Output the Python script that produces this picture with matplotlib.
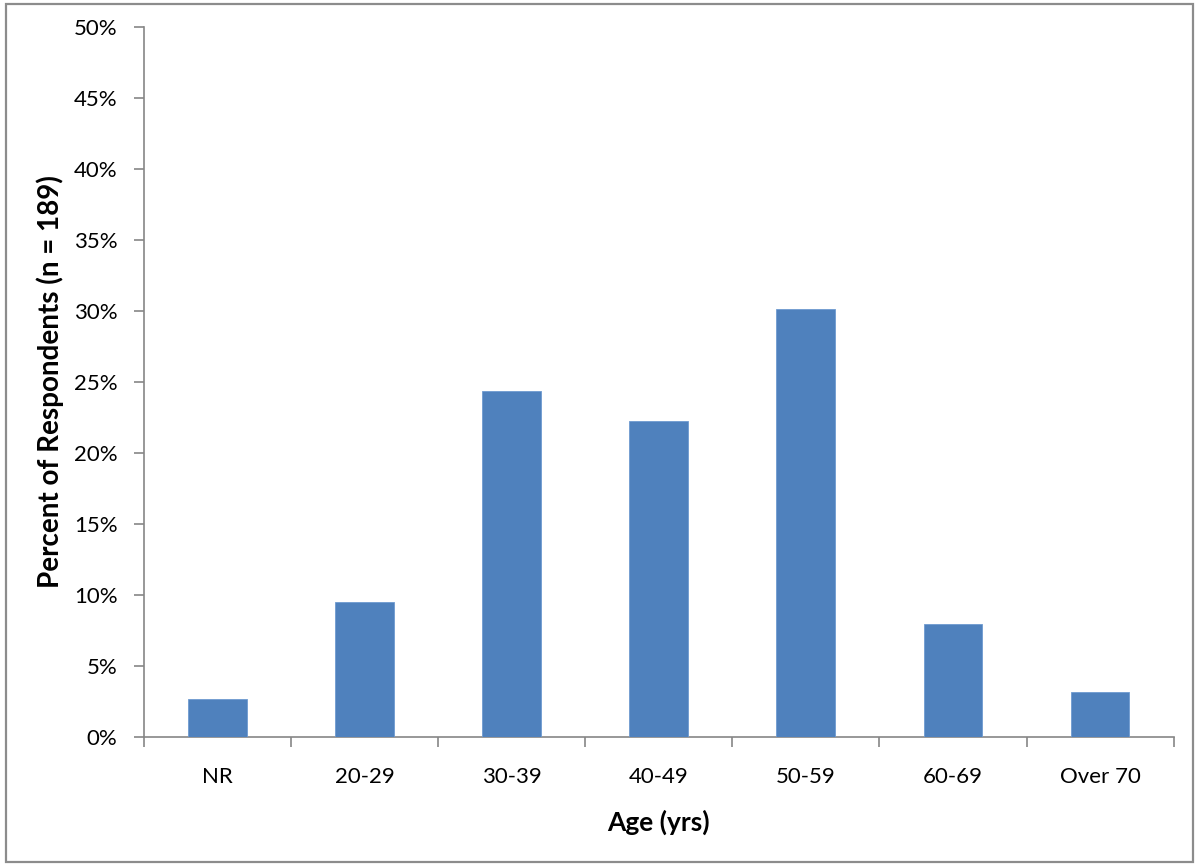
import matplotlib.pyplot as plt
from matplotlib.patches import Rectangle
from matplotlib.ticker import FuncFormatter, MultipleLocator

plt.rcParams["font.family"] = ["Lato", "DejaVu Sans"]

# respondents per age group (n = 189)
age_groups = ["NR", "20-29", "30-39", "40-49", "50-59", "60-69", "Over 70"]
counts = [5, 18, 46, 42, 57, 15, 6]
n_total = 189
percents = [100.0 * c / n_total for c in counts]

AXIS_GRAY = "#868686"
BAR_BLUE = "#4F81BD"

fig = plt.figure(figsize=(12, 8.68), dpi=100)
ax = fig.add_axes([0.12, 0.151, 0.858, 0.818])

x = list(range(len(age_groups)))
ax.bar(x, percents, width=0.4, color=BAR_BLUE, edgecolor="#6E9AD0", linewidth=0.6, zorder=3)

ax.set_xlim(-0.5, len(age_groups) - 0.5)
ax.set_ylim(0, 50)
ax.yaxis.set_major_locator(MultipleLocator(5))
ax.yaxis.set_major_formatter(FuncFormatter(lambda v, _: f"{v:.0f}%"))

# categories labelled at centres, ticks drawn at the boundaries
ax.set_xticks(x)
ax.set_xticklabels(age_groups, fontsize=16)
ax.set_xticks([i - 0.5 for i in range(len(age_groups) + 1)], minor=True)
ax.tick_params(axis="x", which="major", length=0, pad=22)
ax.tick_params(axis="x", which="minor", length=7, color=AXIS_GRAY, width=1.2)
ax.tick_params(axis="y", length=7, color=AXIS_GRAY, width=1.2, labelsize=16, pad=12)

for side in ["top", "right"]:
    ax.spines[side].set_visible(False)
for side in ["left", "bottom"]:
    ax.spines[side].set_color(AXIS_GRAY)
    ax.spines[side].set_linewidth(1.2)

ax.set_xlabel("Age (yrs)", fontsize=19, fontweight="bold", labelpad=16)
ax.set_ylabel("Percent of Respondents (n = 189)", fontsize=20, fontweight="bold", labelpad=7)

# chart area border
fig.patches.append(Rectangle((0.005, 0.007), 0.989, 0.988, transform=fig.transFigure,
                             fill=False, edgecolor="#8C8C8C", linewidth=1.6))

fig.savefig("out.png", dpi=100)
